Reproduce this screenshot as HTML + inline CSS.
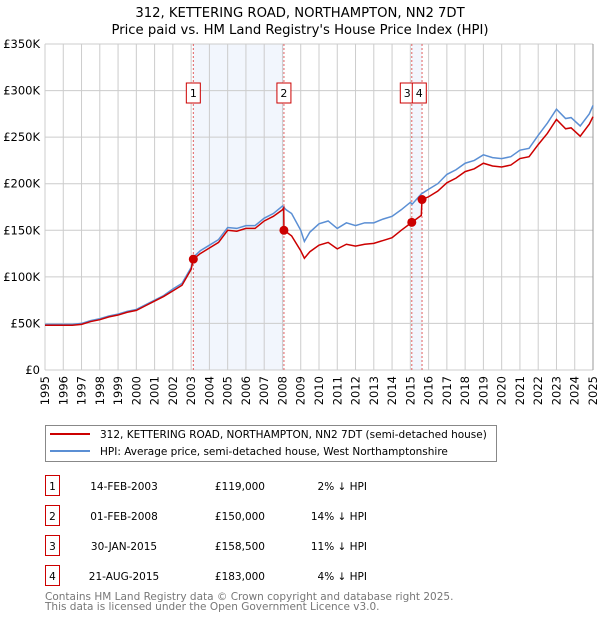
<!DOCTYPE html>
<html><head><meta charset="utf-8"><style>
body{margin:0;background:#fff;font-family:"Liberation Sans","DejaVu Sans",sans-serif;}
svg text{font-family:"DejaVu Sans","Liberation Sans",sans-serif;}
</style></head><body>
<svg id="c" width="600" height="620" viewBox="0 0 600 620" xmlns="http://www.w3.org/2000/svg">
<text x="300" y="17" text-anchor="middle" font-size="13.2" fill="#000">312, KETTERING ROAD, NORTHAMPTON, NN2 7DT</text>
<text x="300" y="34" text-anchor="middle" font-size="13.2" fill="#000">Price paid vs. HM Land Registry's House Price Index (HPI)</text>
<g id="grid"></g>
<g id="marks"></g>
<g>
<rect x="45.5" y="425.5" width="451" height="36" fill="#fff" stroke="#888"/>
<line x1="50" y1="434" x2="90" y2="434" stroke="#cc0000" stroke-width="2"/>
<text x="100" y="438" font-size="10.5">312, KETTERING ROAD, NORTHAMPTON, NN2 7DT (semi-detached house)</text>
<line x1="50" y1="451" x2="90" y2="451" stroke="#5b8fd4" stroke-width="2"/>
<text x="100" y="455" font-size="10.5">HPI: Average price, semi-detached house, West Northamptonshire</text>
</g>
<g id="table"></g>
<text x="45" y="600" font-size="10.5" fill="#777">Contains HM Land Registry data © Crown copyright and database right 2025.</text>
<text x="45" y="610" font-size="10.5" fill="#777">This data is licensed under the Open Government Licence v3.0.</text>
</svg>
<script>
const hpiYears=[1995,1996,1996.5,1997,1997.5,1998,1998.5,1999,1999.5,2000,2000.5,2001,2001.5,2002,2002.5,2003,2003.12,2003.5,2004,2004.5,2005,2005.5,2006,2006.5,2007,2007.5,2008,2008.2,2008.5,2009,2009.2,2009.5,2010,2010.5,2011,2011.5,2012,2012.5,2013,2013.5,2014,2014.5,2015,2015.1,2015.6,2016,2016.5,2017,2017.5,2018,2018.5,2019,2019.5,2020,2020.5,2021,2021.5,2022,2022.5,2023,2023.5,2023.8,2024.3,2024.8,2025];
const hpiVals=[49,49,49,50,53,55,58,60,63,65,70,75,80,87,93,110,121,128,134,140,153,152,155,155,163,168,176,172,168,150,138,148,157,160,152,158,155,158,158,162,165,172,180,178,189,194,200,210,215,222,225,231,228,227,229,236,238,252,265,280,270,271,262,275,284];
const redYears=[1995,1996,1996.5,1997,1997.5,1998,1998.5,1999,1999.5,2000,2000.5,2001,2001.5,2002,2002.5,2003,2003.12,2003.5,2004,2004.5,2005,2005.5,2006,2006.5,2007,2007.5,2008,2008.07,2008.08,2008.5,2009,2009.2,2009.5,2010,2010.5,2011,2011.5,2012,2012.5,2013,2013.5,2014,2014.5,2015.08,2015.6,2015.64,2016,2016.5,2017,2017.5,2018,2018.5,2019,2019.5,2020,2020.5,2021,2021.5,2022,2022.5,2023,2023.5,2023.8,2024.3,2024.8,2025];
const redVals=[48,48,48,49,52,54,57,59,62,64,69,74,79,85,91,108,119,125,131,137,150,149,152,152,160,165,172,174,150,144,128,120,127,134,137,130,135,133,135,136,139,142,150,158.5,166,183,186,192,201,206,213,216,222,219,218,220,227,229,242,254,269,259,260,251,264,272];
const saleLabels=["1","2","3","4"];
const saleYears=[2003.12,2008.08,2015.08,2015.64];
const saleVals=[119,150,158.5,183];
const saleDates=["14-FEB-2003","01-FEB-2008","30-JAN-2015","21-AUG-2015"];
const salePrices=["£119,000","£150,000","£158,500","£183,000"];
const salePcts=["2% ↓ HPI","14% ↓ HPI","11% ↓ HPI","4% ↓ HPI"];
const yTicks=[0,50,100,150,200,250,300,350];
const yTickLabels=["£0","£50K","£100K","£150K","£200K","£250K","£300K","£350K"];
const xStart=1995,xEnd=2025;

const NS="http://www.w3.org/2000/svg";
const X0=45,X1=593,Y0=370,Y1=44;
const sx=v=>X0+(v-xStart)/(xEnd-xStart)*(X1-X0);
const sy=v=>Y0-v/350*(Y0-Y1);
function mk(tag,attrs,parent){const e=document.createElementNS(NS,tag);for(const k in attrs)e.setAttribute(k,attrs[k]);parent.appendChild(e);return e;}
const grid=document.getElementById('grid'),marks=document.getElementById('marks'),table=document.getElementById('table');

mk('rect',{x:X0,y:Y1,width:X1-X0,height:Y0-Y1,fill:'#fff'},grid);
for(let i=0;i<2;i++){
  const r=mk('rect',{x:sx(saleYears[i*2]),y:Y1,width:sx(saleYears[i*2+1])-sx(saleYears[i*2]),height:Y0-Y1,fill:'#f2f6fd'},grid);
  
  
}
for(let y=xStart;y<=xEnd;y++){
  const l=mk('line',{x1:sx(y),x2:sx(y),y1:Y1,y2:Y0,stroke:'#cccccc','stroke-width':1},grid);
  
  
  const t=mk('text',{x:0,y:0,'font-size':11.5,'text-anchor':'end',transform:`translate(${sx(y)+4},${Y0+6}) rotate(-90)`},grid);
  t.textContent=y;
  
  
}
yTicks.forEach((v,i)=>{
  const l=mk('line',{x1:X0,x2:X1,y1:sy(v),y2:sy(v),stroke:'#cccccc','stroke-width':1},grid);
  
  
  const t=mk('text',{x:40,y:sy(v)+4,'font-size':11.5,'text-anchor':'end'},grid);
  t.textContent=yTickLabels[i];
  
  
});
mk('line',{x1:X1,x2:X1,y1:Y1,y2:Y0,stroke:'#999','stroke-width':1},grid);

saleYears.forEach((y,i)=>{
  const l=mk('line',{x1:sx(y),x2:sx(y),y1:Y1,y2:Y0,stroke:'#e06060','stroke-width':1,'stroke-dasharray':'2,2'},marks);
  
  
});

const hp=mk('polyline',{points:hpiYears.map((y,i)=>sx(y)+','+sy(hpiVals[i])).join(' '),fill:'none',stroke:'#5b8fd4','stroke-width':1.5},marks);


const rp=mk('polyline',{points:redYears.map((y,i)=>sx(y)+','+sy(redVals[i])).join(' '),fill:'none',stroke:'#cc0000','stroke-width':1.5},marks);



saleYears.forEach((y,i)=>{
  const c=mk('circle',{cx:sx(y),cy:sy(saleVals[i]),r:4.5,fill:'#cc0000'},marks);
  
  
  let bx=sx(y)-7;
  if(i>=2){bx=(i===2)?sx(saleYears[2])-11.5:sx(saleYears[2])+0.5;}
  const g=mk('g',{},marks);
  
  
  mk('rect',{x:bx,y:83,width:14,height:20,fill:'#fff',stroke:'#cc0000','stroke-width':1},g);
  const t=mk('text',{x:bx+7,y:97,'font-size':11,'text-anchor':'middle'},g);
  t.textContent=saleLabels[i];
});

saleLabels.forEach((lab,i)=>{
  const ry=476+i*30;
  const g=mk('g',{},table);
  
  
  mk('rect',{x:45.5,y:ry-0.5,width:14,height:20,fill:'#fff',stroke:'#cc0000','stroke-width':1},g);
  const a=mk('text',{x:52.5,y:ry+14,'font-size':10.5,'text-anchor':'middle'},g);a.textContent=lab;
  const b=mk('text',{x:124,y:ry+14,'font-size':10.5,'text-anchor':'middle'},g);b.textContent=saleDates[i];
  const c=mk('text',{x:265,y:ry+14,'font-size':10.5,'text-anchor':'end'},g);c.textContent=salePrices[i];
  const d=mk('text',{x:367,y:ry+14,'font-size':10.5,'text-anchor':'end'},g);d.textContent=salePcts[i];
});
</script>
</body></html>
